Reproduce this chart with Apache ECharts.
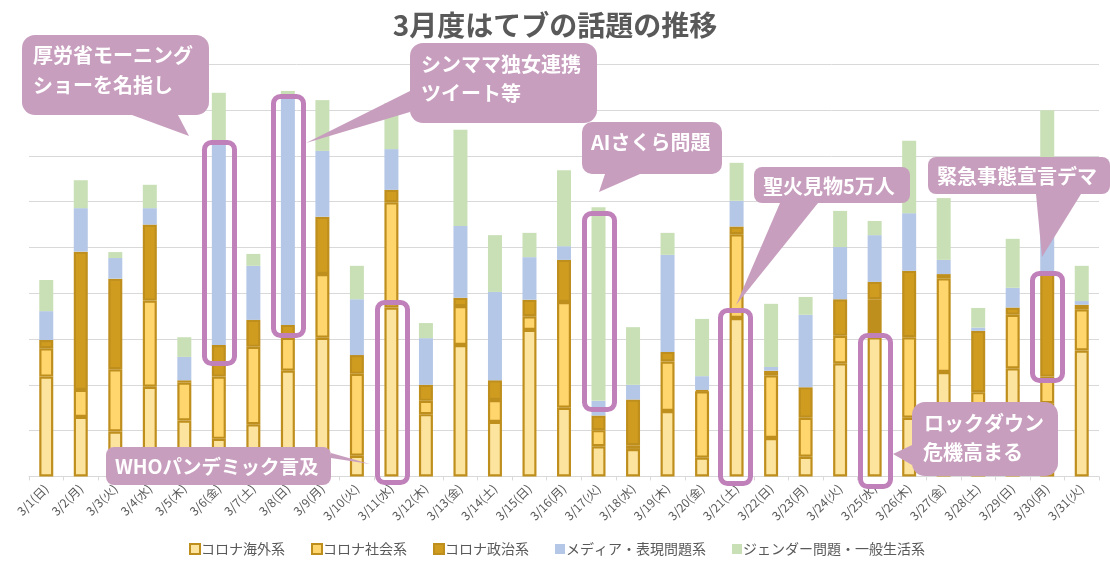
<!DOCTYPE html>
<html><head><meta charset="utf-8">
<style>html,body{margin:0;padding:0;background:#fff}#c{width:1110px;height:565px}</style>
<script src="https://cdn.jsdelivr.net/npm/echarts@6/dist/echarts.min.js"></script>
</head><body><div id="c"></div>
<script>
const categories = ['3/1(日)','3/2(月)','3/3(火)','3/4(水)','3/5(木)','3/6(金)','3/7(土)','3/8(日)','3/9(月)','3/10(火)','3/11(水)','3/12(木)','3/13(金)','3/14(土)','3/15(日)','3/16(月)','3/17(火)','3/18(水)','3/19(木)','3/20(金)','3/21(土)','3/22(日)','3/23(月)','3/24(火)','3/25(水)','3/26(木)','3/27(金)','3/28(土)','3/29(日)','3/30(月)','3/31(火)'];
const seriesNames = ['コロナ海外系','コロナ社会系','コロナ政治系','メディア・表現問題系','ジェンダー問題・一般生活系'];
// top of each stack level, with 100 units per gridline
const top1 = [218,130,98,196,122,82,114,231,303,45,369,136,287,119,320,150,66,60,143,41,346,84,43,247,304,128,228,87,236,160,275];
const top2 = [280,189,234,384,205,218,283,303,442,224,599,165,372,167,350,381,101,68,251,186,529,221,128,307,387,304,433,184,353,218,365];
const top3 = [298,491,432,550,210,287,342,331,567,265,626,200,390,210,386,473,133,168,272,189,546,231,195,387,425,449,442,318,369,444,375];
const top4 = [361,586,477,586,261,731,460,830,711,387,715,302,547,403,479,503,165,200,484,219,602,239,353,501,527,575,473,325,412,546,383];
const top5 = [429,647,490,637,304,838,486,842,822,460,815,335,757,527,532,669,588,326,532,344,685,377,392,580,558,733,608,368,519,800,460];
const diff = (a,b)=>a.map((v,i)=>v-b[i]);
const v1 = top1;
const v2 = diff(top2,top1);
const v3 = diff(top3,top2);
const v4 = diff(top4,top3);
const v5 = diff(top5,top4);
const gridStep = 100, gridMax = 900;

const PINK='#C89EBE', BOX='#C081BA', EDGE='#BF8F1E';
const fills=['#FDE49E','#FFD56E','#CF9C20','#B4C7E7','#C9E0B6'];
const valsets=[v1,v2,v3,v4,v5];

const series = seriesNames.map((name,i)=>({
  name, type:'bar', stack:'t', barWidth:14, z:2,
  data: valsets[i].map((v,j)=> (i===1 && j===24) ? {value:v,itemStyle:{color:EDGE}} : v),
  itemStyle: i<3 ? {color:fills[i],borderColor:EDGE,borderWidth:2.2} : {color:fills[i]},
  emphasis:{disabled:true}
}));

function bubble(x,y,w,h,r,tail){
  return [
   {type:'polygon',z:20,shape:{points:tail},style:{fill:PINK}},
   {type:'rect',z:20,shape:{x,y,width:w,height:h,r},style:{fill:PINK}}
  ];
}
function label(x,y,t,fs){
  return {type:'text',z:21,x,y,style:{text:t,fill:'#fff',font:`bold ${fs||20}px "Noto Sans CJK JP"`,textVerticalAlign:'middle'}};
}
function box(x0,x1,y0,y1){
  return {type:'rect',z:15,shape:{x:x0+2.5,y:y0+2.5,width:x1-x0-5,height:y1-y0-5,r:7},style:{fill:'none',stroke:BOX,lineWidth:5}};
}
const graphics=[
 box(202,237,140,366), box(271,306,94,338), box(375,410,300,485), box(582,617,211,412),
 box(718,753,308,486), box(858,893,333,489), box(1030,1065,271,383),
 ...bubble(22,35,187,80,13,[[132,115],[178,115],[189,136]]),
 label(33,55,'厚労省モーニング'),label(33,85,'ショーを名指し'),
 ...bubble(410,43,187,80,13,[[410,91],[410,112],[306,143]]),
 label(421,64,'シンママ独女連携'),label(421,93,'ツイート等'),
 ...bubble(582,122,140,52,10,[[605,174],[640,174],[599,192]]),
 label(591,142,'AIさくら問題'),
 ...bubble(754,167,156,36,8,[[780,203],[818,203],[736,305]]),
 label(763,186,'聖火見物5万人'),
 ...bubble(928,157,182,37,8,[[1036,194],[1081,194],[1042,257]]),
 label(937,176,'緊急事態宣言デマ'),
 ...bubble(912,402,146,74,13,[[912,445],[912,465],[893,454]]),
 label(924,423,'ロックダウン'),label(923,452,'危機高まる'),
 ...bubble(106,447,225,38,8,[[331,453],[331,458],[370,464]]),
 label(115,467,'WHOパンデミック言及',19.5),
];

const chart=echarts.init(document.getElementById('c'),null,{renderer:'canvas'});
chart.setOption({
 animation:false,
 backgroundColor:'#fff',
 title:{text:'3月度はてブの話題の推移',left:'center',top:6,textStyle:{fontFamily:'Noto Sans CJK JP',fontSize:28,fontWeight:'bold',color:'#595959'}},
 legend:{bottom:4,left:184,itemWidth:10,itemHeight:10,itemGap:26,icon:'rect',selectedMode:false,
   textStyle:{fontFamily:'Noto Sans CJK JP',fontSize:14,color:'#595959',padding:[0,0,0,-4]}},
 grid:{left:29,right:11,top:64.4,bottom:565-476.4},
 xAxis:{type:'category',data:categories,
   axisLine:{lineStyle:{color:'#D9D9D9',width:1}},
   axisTick:{show:true,length:4,lineStyle:{color:'#D9D9D9'}},
   axisLabel:{rotate:45,interval:0,fontFamily:'Noto Sans CJK JP',fontSize:12,color:'#595959',margin:10}},
 yAxis:{type:'value',min:0,max:gridMax,interval:gridStep,
   axisLabel:{show:false},axisLine:{show:false},axisTick:{show:false},
   splitLine:{lineStyle:{color:'#D9D9D9',width:1}}},
 series,
 graphic:graphics
});
</script></body></html>
